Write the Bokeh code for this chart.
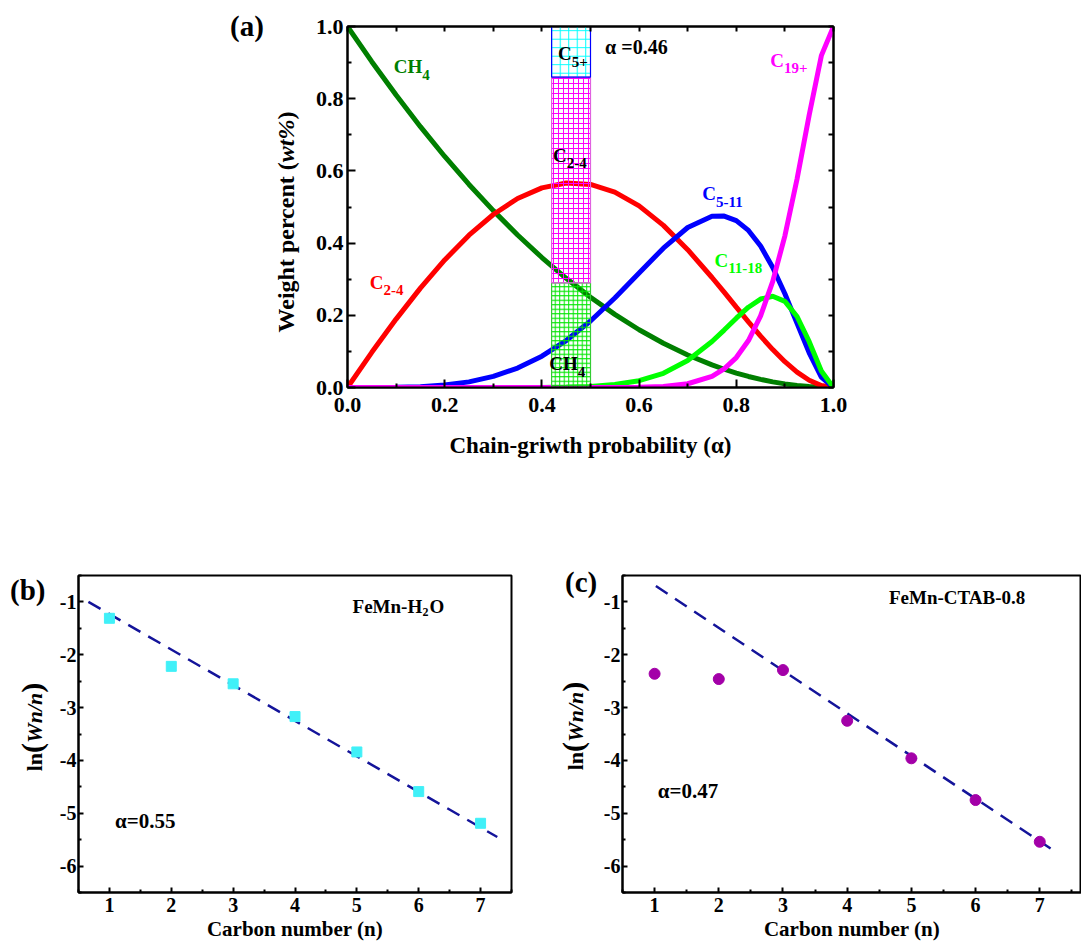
from bokeh.plotting import figure
from bokeh.models import (Label, FixedTicker, PrintfTickFormatter, LinearAxis, Range1d, Div)
from bokeh.layouts import column, row
from bokeh.embed import file_html
from bokeh.resources import INLINE

# ---------------- data: panel (a) ----------------
alpha = [0.0, 0.05, 0.1, 0.15, 0.2, 0.25, 0.3, 0.35, 0.4, 0.45, 0.5, 0.55, 0.6, 0.65,
         0.7, 0.75, 0.775, 0.8, 0.825, 0.85, 0.875, 0.9, 0.925, 0.95, 0.975, 1.0]
ch4 = [1.0, 0.9025, 0.81, 0.7225, 0.64, 0.5625, 0.49, 0.4225, 0.36, 0.3025, 0.25, 0.2025,
       0.16, 0.1225, 0.09, 0.0625, 0.0506, 0.04, 0.0306, 0.0225, 0.0156, 0.01, 0.0056,
       0.0025, 0.0006, 0.0]
c2_4 = [0.0, 0.0975, 0.1895, 0.2753, 0.3533, 0.4219, 0.4792, 0.5235, 0.5530, 0.5663,
        0.5625, 0.5413, 0.5030, 0.4491, 0.3818, 0.3047, 0.2640, 0.2227, 0.1819, 0.1423,
        0.1051, 0.0715, 0.0427, 0.0201, 0.0053, 0.0]
c5_11 = [0.0, 0.0, 0.0005, 0.0022, 0.0067, 0.0156, 0.0308, 0.0539, 0.0867, 0.1301,
         0.1843, 0.2479, 0.3174, 0.3860, 0.4432, 0.4744, 0.4749, 0.4624, 0.4351, 0.3918,
         0.3326, 0.2595, 0.1776, 0.0958, 0.0290, 0.0]
c11_18 = [0.0, 0.0, 0.0, 0.0, 0.0, 0.0, 0.0, 0.0, 0.0003, 0.0011, 0.0031, 0.0081, 0.0188,
          0.0393, 0.0746, 0.1274, 0.1591, 0.1920, 0.2224, 0.2450, 0.2529, 0.2387, 0.1966,
          0.1269, 0.0458, 0.0]
c19 = [0.0, 0.0, 0.0, 0.0, 0.0, 0.0, 0.0, 0.0, 0.0, 0.0, 0.0, 0.0002, 0.0008, 0.0031,
       0.0104, 0.0310, 0.0514, 0.0829, 0.1301, 0.1985, 0.2938, 0.4203, 0.5776, 0.7547,
       0.9193, 1.0]
box_left = [0.42, 0.42, 0.42]
box_right = [0.50, 0.50, 0.50]
box_bottom = [0.0, 0.29, 0.86]
box_top = [0.29, 0.86, 1.0]
a_ticks = [0.0, 0.2, 0.4, 0.6, 0.8, 1.0]
a_minor = [0.1, 0.3, 0.5, 0.7, 0.9]

# ---------------- data: panels (b), (c) ----------------
carbon_n = [1, 2, 3, 4, 5, 6, 7]
ln_b = [-1.31, -2.22, -2.55, -3.17, -3.84, -4.59, -5.19]
fit_b_x = [0.66, 7.27]
fit_b_y = [-1.0, -5.45]
ln_c = [-2.36, -2.46, -2.29, -3.25, -3.96, -4.75, -5.54]
fit_c_x = [1.02, 7.27]
fit_c_y = [-0.70, -5.75]
n_ticks = [1, 2, 3, 4, 5, 6, 7]
n_minor = [0.5, 1.5, 2.5, 3.5, 4.5, 5.5, 6.5, 7.5]
ln_ticks = [-6, -5, -4, -3, -2, -1]
ln_minor = [-6.5, -5.5, -4.5, -3.5, -2.5, -1.5, -0.5]

FONT = "Liberation Serif"
CSS_FONT = "'Liberation Serif', serif"


def style_axis(ax, font_size, tick_in, minor_in, standoff):
    ax.axis_line_width = 2
    ax.axis_line_color = "black"
    ax.major_tick_in = tick_in
    ax.major_tick_out = 0
    ax.minor_tick_in = minor_in
    ax.minor_tick_out = 0
    ax.major_tick_line_width = 2
    ax.minor_tick_line_width = 2
    ax.major_label_text_font = FONT
    ax.major_label_text_font_style = "bold"
    ax.major_label_text_font_size = font_size
    ax.major_label_text_color = "black"
    ax.major_label_standoff = standoff
    ax.axis_label_text_font = FONT
    ax.axis_label_text_font_style = "bold"
    ax.axis_label_text_color = "black"


def lab(p, x, y, text, size, color="black", style="bold", x_off=0, y_off=0):
    p.add_layout(Label(x=x, y=y, text=text, text_font=FONT, text_font_style=style,
                       text_font_size=size, text_color=color, x_offset=x_off,
                       y_offset=y_off, text_align="left", text_baseline="middle"))


def sub_label(p, x, y, main, sub, size, sub_size, main_w, color="black"):
    lab(p, x, y, main, size, color)
    lab(p, x, y, sub, sub_size, color, x_off=main_w, y_off=-8)


def abs_text(left, top, html, size, rotate=False):
    tr = "transform:translate(-50%,-50%) rotate(-90deg);" if rotate else ""
    return (f'<div style="position:absolute;left:{left}px;top:{top}px;{tr}'
            f'font-family:{CSS_FONT};font-weight:bold;font-size:{size}px;'
            f'line-height:1;white-space:nowrap;color:#000;">{html}</div>')


def side_div(width, height, items):
    inner = "".join(items)
    return Div(text=f'<div style="position:relative;width:{width}px;height:{height}px;">'
                    f'{inner}</div>', width=width, height=height, margin=0)


# ================= panel (a) =================
pa = figure(width=781, height=520, output_backend="svg", toolbar_location=None,
            x_range=Range1d(0, 1), y_range=Range1d(0, 1),
            min_border_left=47, min_border_right=248, min_border_top=26,
            min_border_bottom=133, margin=0)
pa.grid.visible = False
pa.outline_line_color = "black"
pa.outline_line_width = 2
pa.xaxis.ticker = FixedTicker(ticks=a_ticks, minor_ticks=a_minor)
pa.yaxis.ticker = FixedTicker(ticks=a_ticks, minor_ticks=a_minor)
pa.xaxis.formatter = PrintfTickFormatter(format="%.1f")
pa.yaxis.formatter = PrintfTickFormatter(format="%.1f")
style_axis(pa.xaxis[0], "22px", 8, 4, 10)
style_axis(pa.yaxis[0], "22px", 8, 4, 4)
pa.xaxis.axis_label = "Chain-griwth probability (\u03b1)"
pa.xaxis.axis_label_text_font_size = "23px"
pa.xaxis.axis_label_standoff = 18
for loc in ("above", "right"):
    ax = LinearAxis(ticker=FixedTicker(ticks=[], minor_ticks=sorted(a_ticks + a_minor)))
    style_axis(ax, "22px", 8, 5, 0)
    pa.add_layout(ax, loc)

pa.line(alpha, ch4, line_color="#007F00", line_width=5)
pa.line(alpha, c2_4, line_color="#FF0000", line_width=5)
pa.line(alpha, c5_11, line_color="#0000FF", line_width=5)
pa.line(alpha, c11_18, line_color="#00FF00", line_width=5)
pa.line(alpha, c19, line_color="#FF00FF", line_width=5)

pa.quad(left=box_left, right=box_right, bottom=box_bottom, top=box_top,
        fill_alpha=0, hatch_pattern="+",
        hatch_color=["#00E600", "#FF00FF", "#00FFFF"],
        hatch_scale=[4.5, 5, 8.5], hatch_weight=1,
        line_color=["#33CC33", "#E060E0", "#0000FF"], line_width=1.2)

sub_label(pa, 0.095, 0.889, "CH", "4", "19px", "15px", 28.5, "#007F00")
sub_label(pa, 0.433, 0.925, "C", "5+", "19px", "15px", 13.7)
lab(pa, 0.530, 0.942, "\u03b1 =0.46", "20px")
sub_label(pa, 0.870, 0.906, "C", "19+", "19px", "15px", 13.7, "#FF00FF")
sub_label(pa, 0.423, 0.643, "C", "2-4", "19px", "15px", 13.7)
sub_label(pa, 0.730, 0.537, "C", "5-11", "19px", "15px", 13.7, "#0000FF")
sub_label(pa, 0.755, 0.352, "C", "11-18", "19px", "15px", 13.7, "#00FF00")
sub_label(pa, 0.046, 0.291, "C", "2-4", "19px", "15px", 13.7, "#FF0000")
sub_label(pa, 0.415, 0.066, "CH", "4", "19px", "15px", 28.5)

div_a = side_div(300, 520, [
    abs_text(230, 12, "(a)", 29),
    abs_text(286, 222, "Weight percent (<i>wt%</i>)", 24, rotate=True),
])


# ================= panels (b), (c) =================
def small_panel(width, left, right, xmax):
    p = figure(width=width, height=424, output_backend="svg", toolbar_location=None,
               x_range=Range1d(0.5, xmax), y_range=Range1d(-6.5, -0.5),
               min_border_left=left, min_border_right=right, min_border_top=55,
               min_border_bottom=52, margin=0)
    p.grid.visible = False
    p.outline_line_color = "black"
    p.outline_line_width = 2
    p.xaxis.ticker = FixedTicker(ticks=n_ticks, minor_ticks=n_minor)
    p.yaxis.ticker = FixedTicker(ticks=ln_ticks, minor_ticks=ln_minor)
    p.xaxis.formatter = PrintfTickFormatter(format="%d")
    p.yaxis.formatter = PrintfTickFormatter(format="%d")
    style_axis(p.xaxis[0], "20px", 5, 3, 5)
    style_axis(p.yaxis[0], "20px", 5, 3, 2)
    p.xaxis.axis_label = "Carbon number (n)"
    p.xaxis.axis_label_text_font_size = "21px"
    p.xaxis.axis_label_standoff = 2
    return p


LN_HTML = ('ln<span style="font-size:30px;">(</span><i>Wn/n</i>'
           '<span style="font-size:30px;">)</span>')

pb = small_panel(490, 28, 29, 7.5)
pb.line(fit_b_x, fit_b_y, line_color="#14149A", line_width=2.5, line_dash="14 9")
pb.scatter(carbon_n, ln_b, marker="square", size=10, fill_color="#40F0F8",
           line_color="#40F0F8")
lab(pb, 4.93, -1.08, "FeMn-H", "19px")
lab(pb, 4.93, -1.08, "2", "12px", x_off=70, y_off=-6)
lab(pb, 4.93, -1.08, "O", "19px", x_off=77)
lab(pb, 1.09, -5.15, "\u03b1=0.55", "21px")
div_b = side_div(50, 424, [
    abs_text(10, 56, "(b)", 29),
    abs_text(32, 207, LN_HTML, 22, rotate=True),
])

pc = small_panel(483, 24, 0, 7.65)
pc.line(fit_c_x, fit_c_y, line_color="#14149A", line_width=2.5, line_dash="14 9")
pc.scatter(carbon_n, ln_c, marker="circle", size=11, fill_color="#A300A8",
           line_color="#A300A8")
lab(pc, 4.65, -0.92, "FeMn-CTAB-0.8", "19px")
lab(pc, 1.05, -4.58, "\u03b1=0.47", "21px")
div_c = side_div(58, 424, [
    abs_text(25, 48, "(c)", 29),
    abs_text(33, 206, LN_HTML, 22, rotate=True),
])

layout = column(row(div_a, pa, margin=0), row(div_b, pb, div_c, pc, margin=0), margin=0)
open("out.html", "w").write(file_html(layout, INLINE))
